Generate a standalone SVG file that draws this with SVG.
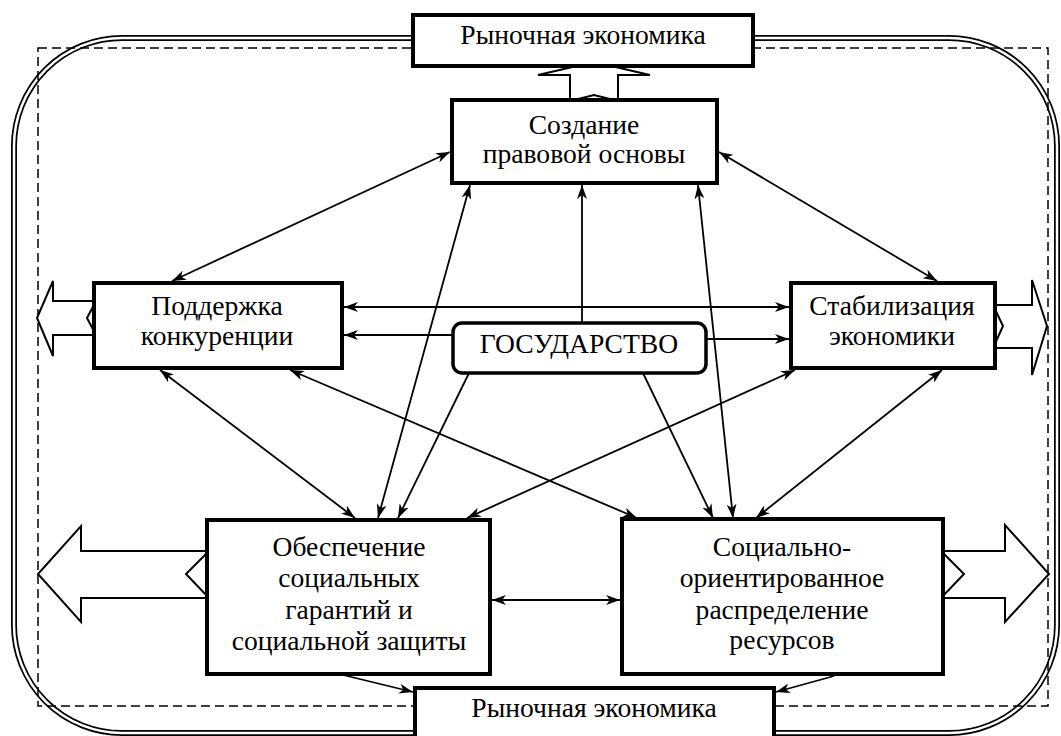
<svg xmlns="http://www.w3.org/2000/svg" width="1061" height="736" viewBox="0 0 1061 736">
<style>
.box{fill:#fff;stroke:#000;stroke-width:4}
.gov{fill:#fff;stroke:#000;stroke-width:3.5}
.t{font-family:'Liberation Serif','DejaVu Serif','Times New Roman',serif;font-size:27.6px;fill:#000;text-anchor:middle}
.c{stroke:#000;stroke-width:1.8;fill:none}
.ba{fill:#fff;stroke:#000;stroke-width:2;stroke-linejoin:miter}
.frame1{fill:none;stroke:#000;stroke-width:6}
.frame2{fill:none;stroke:#fff;stroke-width:2.5}
.dash{fill:none;stroke:#000;stroke-width:1.5;stroke-dasharray:9 5}
</style>
<defs>
<marker id="ah" viewBox="0 0 14 10" markerWidth="14" markerHeight="10" markerUnits="userSpaceOnUse" refX="14" refY="5" orient="auto-start-reverse">
<path d="M0,0 L14,5 L0,10 L4,5 Z" fill="#000"/>
</marker>
</defs>
<g id="frame">
<rect class="frame1" x="14" y="38" width="1043" height="695" rx="108" ry="108"/>
<rect class="frame2" x="14" y="38" width="1043" height="695" rx="108" ry="108"/>
<rect class="dash" x="38" y="48" width="1010" height="658"/>
</g>
<g id="block-arrows">
<polygon class="ba" points="570,101 570,75 538,75 594,62 650,75 618,75 618,101 594,95"/>
<polygon class="ba" points="96,301 53,301 53,281 37,318 53,356 53,335 96,335 87,318"/>
<polygon class="ba" points="993,305 1032,305 1032,280 1047,326 1032,375 1032,348 993,348 1003,326"/>
<polygon class="ba" points="209,551 81,551 81,526 38,574 81,622 81,598 209,598 186,574"/>
<polygon class="ba" points="941,551 1005,551 1005,525 1049,574 1005,622 1005,598 941,598 964,574"/>
</g>
<g id="connectors">
<line class="c" x1="450" y1="152" x2="172" y2="281" marker-start="url(#ah)" marker-end="url(#ah)"/>
<line class="c" x1="719" y1="152" x2="937" y2="281" marker-start="url(#ah)" marker-end="url(#ah)"/>
<line class="c" x1="470" y1="185" x2="378" y2="518" marker-start="url(#ah)" marker-end="url(#ah)"/>
<line class="c" x1="698" y1="185" x2="733" y2="518" marker-start="url(#ah)" marker-end="url(#ah)"/>
<line class="c" x1="582" y1="322" x2="582" y2="185" marker-end="url(#ah)"/>
<line class="c" x1="344" y1="307" x2="789" y2="307" marker-start="url(#ah)" marker-end="url(#ah)"/>
<line class="c" x1="453" y1="335" x2="344" y2="335" marker-end="url(#ah)"/>
<line class="c" x1="706" y1="339" x2="789" y2="339" marker-end="url(#ah)"/>
<line class="c" x1="160" y1="370" x2="355" y2="518" marker-start="url(#ah)" marker-end="url(#ah)"/>
<line class="c" x1="290" y1="370" x2="637" y2="518" marker-start="url(#ah)" marker-end="url(#ah)"/>
<line class="c" x1="795" y1="370" x2="467" y2="518" marker-start="url(#ah)" marker-end="url(#ah)"/>
<line class="c" x1="942" y1="370" x2="756" y2="518" marker-start="url(#ah)" marker-end="url(#ah)"/>
<line class="c" x1="470" y1="371" x2="398" y2="518" marker-end="url(#ah)"/>
<line class="c" x1="642" y1="371" x2="713" y2="518" marker-end="url(#ah)"/>
<line class="c" x1="492" y1="600" x2="620" y2="600" marker-start="url(#ah)" marker-end="url(#ah)"/>
<line class="c" x1="335" y1="673" x2="413" y2="692" marker-end="url(#ah)"/>
<line class="c" x1="834" y1="676" x2="776" y2="692" marker-end="url(#ah)"/>
</g>
<g id="market-top">
<rect class="box" x="413" y="15" width="340" height="51"/>
<text class="t" x="583" y="44">Рыночная экономика</text>
</g>
<g id="legal">
<rect class="box" x="452" y="100" width="265" height="83"/>
<text class="t" x="584" y="134">Создание</text>
<text class="t" x="584" y="163">правовой основы</text>
</g>
<g id="competition">
<rect class="box" x="94" y="283" width="248" height="85"/>
<text class="t" x="217" y="315">Поддержка</text>
<text class="t" x="217" y="345">конкуренции</text>
</g>
<g id="stabilization">
<rect class="box" x="791" y="283" width="204" height="85"/>
<text class="t" x="892" y="315">Стабилизация</text>
<text class="t" x="892" y="345">экономики</text>
</g>
<g id="state">
<rect class="gov" x="453" y="323" width="253" height="50" rx="9" ry="9"/>
<text class="t" x="579" y="353">ГОСУДАРСТВО</text>
</g>
<g id="social">
<rect class="box" x="207" y="520" width="283" height="154"/>
<text class="t" x="349" y="556">Обеспечение</text>
<text class="t" x="349" y="587">социальных</text>
<text class="t" x="349" y="619">гарантий и</text>
<text class="t" x="349" y="650">социальной защиты</text>
</g>
<g id="distribution">
<rect class="box" x="622" y="519" width="321" height="155"/>
<text class="t" x="782" y="556">Социально-</text>
<text class="t" x="782" y="587">ориентированное</text>
<text class="t" x="782" y="619">распределение</text>
<text class="t" x="782" y="649">ресурсов</text>
</g>
<g id="market-bottom">
<rect class="box" x="415" y="688" width="359" height="60"/>
<text class="t" x="594" y="717">Рыночная экономика</text>
</g>
</svg>
